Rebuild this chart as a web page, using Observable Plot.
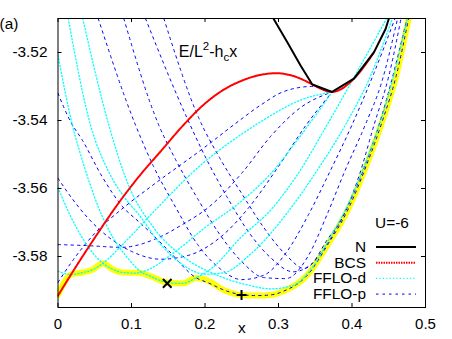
<!DOCTYPE html>
<html><head><meta charset="utf-8">
<script src="https://cdn.jsdelivr.net/npm/d3@7"></script>
<script src="https://cdn.jsdelivr.net/npm/@observablehq/plot@0.6"></script>
<style>
body{margin:0;background:#fff;}
#chart{width:452px;height:339px;}
svg{font-family:"Liberation Sans",Arial,sans-serif;}
</style></head><body><div id="chart"></div>
<script>
const xTicks = [0, 0.1, 0.2, 0.3, 0.4, 0.5];
const yTicks = [-3.58, -3.56, -3.54, -3.52];

// Normal state
const N = [[0.2925,-3.5098],[0.312,-3.517],[0.330,-3.5238],[0.346,-3.5294],[0.373,-3.5316],[0.4026,-3.5277],[0.43,-3.5199],[0.4457,-3.5131],[0.4505,-3.5098]];
// BCS
const BCS = [[0,-3.5915],[0.02,-3.5845],[0.05,-3.5745],[0.08,-3.565],[0.11,-3.5565],[0.14,-3.549],[0.17,-3.5415],[0.2,-3.535],[0.225,-3.531],[0.25,-3.5283],[0.275,-3.5266],[0.297,-3.5261],[0.32,-3.5269],[0.338,-3.5285],[0.346,-3.5294],[0.373,-3.5316],[0.4026,-3.5277],[0.43,-3.5199]];
// FFLO-d branches
const D1 = [[0,-3.5843],[0.017,-3.5853],[0.034,-3.5847],[0.048,-3.5838],[0.061,-3.582],[0.09,-3.576],[0.133,-3.5662],[0.198,-3.5524],[0.24,-3.5455],[0.28,-3.5398],[0.33,-3.534],[0.373,-3.5316]];
const D2 = [[0,-3.5597],[0.015,-3.5672],[0.035,-3.5752],[0.061,-3.582],[0.075,-3.5838],[0.088,-3.5847],[0.105,-3.5849],[0.12,-3.5841],[0.16,-3.5785],[0.2,-3.5715],[0.244,-3.5647],[0.29,-3.5555],[0.33,-3.5445],[0.373,-3.5316]];
const D3 = [[0,-3.5208],[0.0195,-3.5413],[0.0357,-3.5535],[0.055,-3.5655],[0.075,-3.5745],[0.095,-3.5805],[0.115,-3.5848],[0.1236,-3.5856],[0.1495,-3.5877],[0.17,-3.5879],[0.1875,-3.5863],[0.21,-3.5833],[0.2483,-3.5745],[0.29,-3.5662],[0.33,-3.5545],[0.366,-3.5413],[0.41,-3.5245],[0.447,-3.51]];
const D4 = [[0.0139,-3.51],[0.0442,-3.5413],[0.07,-3.5555],[0.09,-3.5625],[0.11,-3.5677],[0.14,-3.5765],[0.17,-3.5825],[0.2,-3.5852],[0.225,-3.5848],[0.26,-3.5797],[0.31,-3.5677],[0.35,-3.5555],[0.391,-3.5413],[0.425,-3.527],[0.455,-3.51]];
const D5 = [[0.0337,-3.51],[0.0691,-3.5413],[0.094,-3.558],[0.13,-3.5715],[0.17,-3.58],[0.22,-3.5858],[0.26,-3.5885],[0.29,-3.5895],[0.32,-3.5885],[0.345,-3.5835],[0.37,-3.5745],[0.395,-3.5645],[0.42,-3.5515],[0.445,-3.536],[0.475,-3.5105]];
// FFLO-p branches
const Pa = [[0,-3.5876],[0.02,-3.5812],[0.05,-3.5732],[0.09,-3.5655],[0.126,-3.5595],[0.2,-3.5478],[0.239,-3.5413],[0.2755,-3.5355],[0.307,-3.5315],[0.345,-3.53],[0.373,-3.5316]];
const Pb = [[0,-3.5765],[0.04,-3.5768],[0.087,-3.5773],[0.133,-3.5748],[0.17,-3.5705],[0.205,-3.5655],[0.25,-3.5555],[0.29,-3.5445],[0.33,-3.5362],[0.373,-3.5316]];
const Pc = [[0,-3.557],[0.02,-3.5632],[0.04,-3.5685],[0.07,-3.5745],[0.1,-3.5785],[0.14,-3.5808],[0.18,-3.5795],[0.22,-3.5745],[0.26,-3.5655],[0.3,-3.5535],[0.3377,-3.5413],[0.373,-3.5316]];
const Pf = [[0,-3.532],[0.017,-3.5403],[0.0329,-3.5457],[0.06,-3.5565],[0.0873,-3.5652],[0.11,-3.5698],[0.126,-3.573],[0.15,-3.5782],[0.1875,-3.5862],[0.205,-3.5878],[0.224,-3.5897],[0.2486,-3.5912],[0.27,-3.5915],[0.289,-3.5913],[0.307,-3.5902],[0.34,-3.5853],[0.367,-3.5765],[0.395,-3.566],[0.42,-3.553],[0.4416,-3.54],[0.46,-3.527],[0.477,-3.51]];
const PR1 = [[0.0547,-3.51],[0.1054,-3.5413],[0.13,-3.5535],[0.16,-3.5655],[0.19,-3.5765],[0.22,-3.5835],[0.25,-3.5868],[0.28,-3.5855],[0.31,-3.579],[0.3408,-3.5677],[0.37,-3.555],[0.4,-3.5413],[0.43,-3.526],[0.4585,-3.51]];
const PR2 = [[0.0895,-3.51],[0.137,-3.5413],[0.16,-3.5515],[0.19,-3.563],[0.22,-3.5735],[0.25,-3.5815],[0.28,-3.5862],[0.31,-3.5865],[0.34,-3.58],[0.366,-3.5677],[0.39,-3.555],[0.418,-3.5413],[0.44,-3.529],[0.462,-3.51]];
const PR3 = [[0.119,-3.51],[0.1735,-3.5383],[0.2,-3.5505],[0.23,-3.5625],[0.26,-3.573],[0.29,-3.5805],[0.32,-3.5845],[0.345,-3.5822],[0.365,-3.5755],[0.389,-3.5677],[0.41,-3.556],[0.43,-3.5413],[0.45,-3.527],[0.4667,-3.51]];
const PR4 = [[0.144,-3.51],[0.1916,-3.5393],[0.22,-3.551],[0.25,-3.5615],[0.28,-3.5715],[0.31,-3.5795],[0.335,-3.5835],[0.355,-3.5798],[0.38,-3.5712],[0.41,-3.5575],[0.44,-3.539],[0.475,-3.51]];
// Ground-state envelope
const envelope = [[0,-3.5913],[0.0177,-3.5853],[0.034,-3.5847],[0.0476,-3.5838],[0.0611,-3.582],[0.0747,-3.5838],[0.0883,-3.5847],[0.11,-3.5848],[0.1236,-3.5856],[0.1495,-3.5877],[0.17,-3.5879],[0.1875,-3.5863],[0.201,-3.5868],[0.224,-3.5897],[0.2486,-3.5913],[0.27,-3.5915],[0.289,-3.5913],[0.307,-3.5902],[0.34,-3.5853],[0.367,-3.5765],[0.395,-3.566],[0.42,-3.553],[0.4416,-3.54],[0.46,-3.527],[0.477,-3.51]];
const timesPts = [[0.1486,-3.5879]];
const plusPts = [[0.2497,-3.5913]];

const cyanStyle = {stroke: "#00ffff", width: 1.3, dash: "1.2,2.2"};
const blueStyle = {stroke: "#0000ff", width: 1, dash: "2.5,4"};
const redStyle = {stroke: "#ff0000", width: 2, dash: "1.5,1"};
const legendItems = [
  {label: "N", stroke: "#000000", width: 2, dash: null},
  {label: "BCS", ...redStyle},
  {label: "FFLO-d", ...cyanStyle},
  {label: "FFLO-p", ...blueStyle}
];

const W = 452, H = 339, mL = 57.5, mR = 27, mT = 18, mB = 32;
const innerW = W - mL - mR, innerH = H - mT - mB;
const px = d => d[0], py = d => d[1];
const cyanCurves = [D1, D2, D3, D4, D5];
const blueCurves = [Pa, Pb, Pc, Pf, PR1, PR2, PR3, PR4];
const crv = "monotone-x";

const marks = [
  Plot.line(envelope, {x: px, y: py, stroke: "#ffff00", strokeWidth: 6, curve: crv, clip: true}),
  ...blueCurves.map(c => Plot.line(c, {x: px, y: py, stroke: blueStyle.stroke, strokeWidth: blueStyle.width, strokeDasharray: blueStyle.dash, curve: crv, clip: true})),
  ...cyanCurves.map(c => Plot.line(c, {x: px, y: py, stroke: cyanStyle.stroke, strokeWidth: cyanStyle.width, strokeDasharray: cyanStyle.dash, curve: crv, clip: true})),
  Plot.line(BCS, {x: px, y: py, stroke: redStyle.stroke, strokeWidth: redStyle.width, strokeDasharray: redStyle.dash, curve: crv, clip: true}),
  Plot.line(N, {x: px, y: py, stroke: "#000", strokeWidth: 2, clip: true}),
  Plot.dot(timesPts, {x: px, y: py, symbol: "times", r: 4, stroke: "#000", strokeWidth: 2}),
  Plot.dot(plusPts, {x: px, y: py, symbol: "plus", r: 3.3, stroke: "#000", strokeWidth: 2}),
  Plot.tickX(xTicks, {x: d => d, insetTop: innerH - 4, stroke: "#000"}),
  Plot.tickX(xTicks, {x: d => d, insetBottom: innerH - 4, stroke: "#000"}),
  Plot.tickY(yTicks, {y: d => d, insetRight: innerW - 4, stroke: "#000"}),
  Plot.tickY(yTicks, {y: d => d, insetLeft: innerW - 4, stroke: "#000"}),
  Plot.frame({stroke: "#000", strokeWidth: 1}),
  Plot.axisX({ticks: xTicks, tickSize: 0, tickPadding: 10.5, tickFormat: d => d === 0 ? "0" : d.toFixed(1), label: null, fontSize: 15}),
  Plot.axisY({ticks: yTicks, tickSize: 0, tickPadding: 10.5, tickFormat: d => d.toFixed(2), label: null, fontSize: 15.4}),
  Plot.text(["x"], {frameAnchor: "bottom", dy: 25, text: d => d, fontSize: 15.4})
];

const plot = Plot.plot({
  width: W, height: H,
  marginLeft: mL, marginRight: mR, marginTop: mT, marginBottom: mB,
  style: {fontFamily: "Liberation Sans, Arial, sans-serif", fontSize: "15px", background: "#fff", color: "#000"},
  x: {domain: [0, 0.5]},
  y: {domain: [-3.595, -3.51]},
  marks
});

const svg = d3.select(plot);
svg.append("text").attr("x", 9).attr("y", 29).attr("font-size", 15.4).attr("fill", "#000").text("(a)");
const q = svg.append("text").attr("x", 208).attr("y", 56.5).attr("font-size", 16).attr("fill", "#000");
q.append("tspan").text("E/L");
q.append("tspan").attr("dy", -6.5).attr("font-size", 11.5).text("2");
q.append("tspan").attr("dy", 6.5).text("-h");
q.append("tspan").attr("dy", 4.5).attr("font-size", 11.5).text("c");
q.append("tspan").attr("dy", -4.5).text("x");
const lg = svg.append("g").attr("font-size", 15.4).attr("fill", "#000");
lg.append("text").attr("x", 392).attr("y", 228).attr("text-anchor", "middle").text("U=-6");
legendItems.forEach((it, i) => {
  const by = 252 + i * 15.7;
  lg.append("text").attr("x", 366).attr("y", by).attr("text-anchor", "end").text(it.label);
  lg.append("line").attr("x1", 376).attr("x2", 416).attr("y1", by - 5).attr("y2", by - 5)
    .attr("stroke", it.stroke).attr("stroke-width", it.width).attr("stroke-dasharray", it.dash);
});
document.getElementById("chart").appendChild(plot);
</script>
</body></html>
